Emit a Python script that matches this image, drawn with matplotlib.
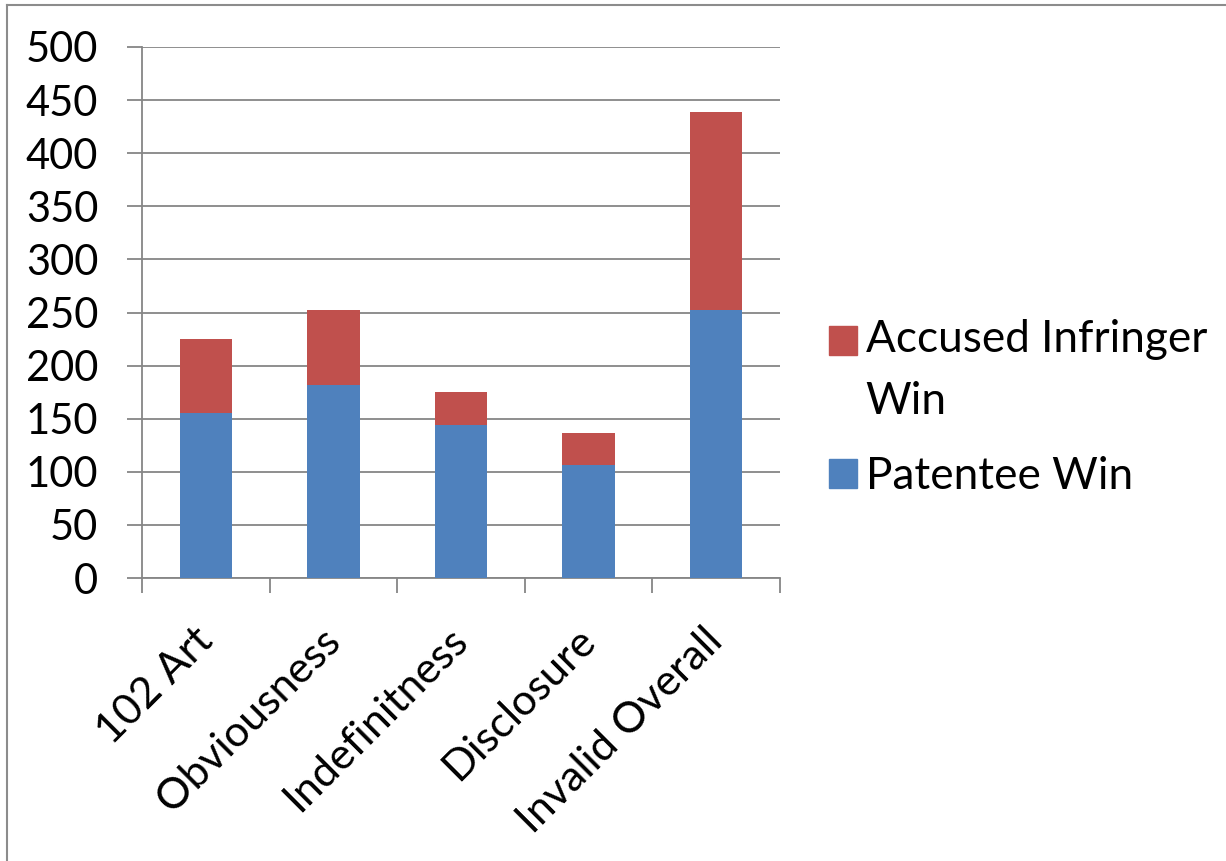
import numpy as np
import matplotlib
matplotlib.use("Agg")
import matplotlib.pyplot as plt
from matplotlib.lines import Line2D
from matplotlib.patches import Patch
import matplotlib.transforms as mtransforms

categories = ["102 Art", "Obviousness", "Indefinitness", "Disclosure", "Invalid Overall"]
patentee_win = [155, 182, 144, 106, 252]
infringer_win = [70, 70, 31, 31, 187]
yticks = [0, 50, 100, 150, 200, 250, 300, 350, 400, 450, 500]

BLUE = "#4F81BD"
RED = "#C0504D"
GRID = "#868686"
FS = 30

plt.rcParams['font.family'] = ['Lato', 'DejaVu Sans']

W, H = 1226, 861
fig = plt.figure(figsize=(W / 100, H / 100), dpi=100)
ax = fig.add_axes([142 / W, 1 - 578 / H, (780 - 142) / W, (578 - 47) / H])

x = np.arange(len(categories))
ax.bar(x, patentee_win, width=0.41, color=BLUE, zorder=3, label="Patentee Win")
ax.bar(x, infringer_win, width=0.41, bottom=patentee_win, color=RED, zorder=3,
       label="Accused Infringer\nWin")

ax.set_xlim(-0.5, len(categories) - 0.5)
ax.set_ylim(0, 500)
ax.set_yticks(yticks)
ax.set_yticklabels([str(v) for v in yticks])
ax.yaxis.grid(True, color=GRID, linewidth=1.3, zorder=0)
ax.set_axisbelow(True)
for s in ["top", "right"]:
    ax.spines[s].set_visible(False)
for s in ["left", "bottom"]:
    ax.spines[s].set_color(GRID)
    ax.spines[s].set_linewidth(1.3)

ax.tick_params(axis='y', length=10.5, width=1.3, color=GRID, pad=21, labelsize=FS)
ax.set_xticks(x)
ax.set_xticklabels(categories, rotation=45, ha='right', va='top',
                   rotation_mode='anchor', fontsize=31)
ax.tick_params(axis='x', which='major', length=0, pad=31)
ax.set_xticks(np.arange(-0.5, len(categories), 1), minor=True)
ax.tick_params(axis='x', which='minor', length=10.5, width=1.3, color=GRID)
offset = mtransforms.ScaledTranslation(-13 / 100, 0, fig.dpi_scale_trans)
for lab in ax.get_xticklabels():
    lab.set_transform(lab.get_transform() + offset)

handles = [Patch(color=RED), Patch(color=BLUE)]
labels = ["Accused Infringer\nWin", "Patentee Win"]
leg = fig.legend(handles, labels, loc='center left',
                 bbox_to_anchor=(829 / W, 1 - 408 / H), frameon=False,
                 fontsize=31.8, handlelength=0.63, handleheight=0.63,
                 handletextpad=0.2, labelspacing=0.78, borderpad=0,
                 borderaxespad=0)
for t in leg.get_texts():
    t.set_linespacing(1.64)
# align the red marker with the first line of its two-line label
leg.legend_handles[0].set_y(leg.legend_handles[0].get_y() + 31 * 0.72)

# outer chart frame (cut at the right and bottom)
fig.add_artist(Line2D([7 / W, 7 / W], [0, 1 - 5 / H], transform=fig.transFigure,
                      color="#8C8C8C", linewidth=1.5))
fig.add_artist(Line2D([7 / W, 1], [1 - 5 / H, 1 - 5 / H], transform=fig.transFigure,
                      color="#8C8C8C", linewidth=1.5))

fig.savefig("out.png", dpi=100)
